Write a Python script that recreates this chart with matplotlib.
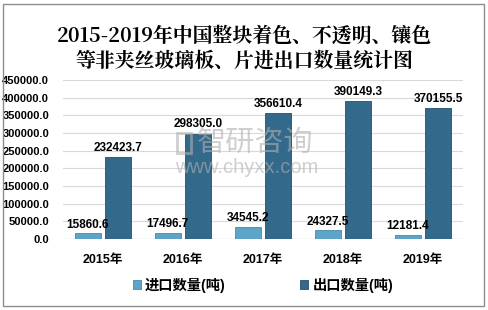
import numpy as np
import matplotlib.pyplot as plt
from matplotlib.patches import Rectangle

plt.rcParams['font.family'] = ['Liberation Sans', 'Noto Sans CJK SC']

years = ['2015年', '2016年', '2017年', '2018年', '2019年']
imports = [15860.6, 17496.7, 34545.2, 24327.5, 12181.4]
exports = [232423.7, 298305.0, 356610.4, 390149.3, 370155.5]
yticks = [0, 50000, 100000, 150000, 200000, 250000, 300000, 350000, 400000, 450000]

fig = plt.figure(figsize=(4.88, 3.10), dpi=100)
ax = fig.add_axes([0.129, 0.229, 0.820, 0.513])

x = np.arange(len(years))
w = 0.32
b1 = ax.bar(x - 0.19, imports, w, color='#5ea3c8', edgecolor='#4a86a8', linewidth=0.6, zorder=3)
b2 = ax.bar(x + 0.19, exports, w, color='#33698a', edgecolor='#24506b', linewidth=0.6, zorder=3)

for xi, v in zip(x, imports):
    ax.text(xi - 0.19, v + 7000, f'{v:.1f}', ha='center', va='bottom',
            fontsize=8.5, fontweight='bold')
for xi, v in zip(x, exports):
    ax.text(xi + 0.19, v + 9000, f'{v:.1f}', ha='center', va='bottom',
            fontsize=8.5, fontweight='bold')

ax.set_xlim(-0.5, len(years) - 0.5)
ax.set_ylim(0, 450000)
ax.set_yticks(yticks)
ax.set_yticklabels([f'{t:.1f}' for t in yticks], fontsize=8, fontweight='bold')
ax.set_xticks(x)
ax.set_xticklabels(years, fontsize=9, fontweight='bold')
ax.tick_params(axis='y', length=0, pad=10)
ax.tick_params(axis='x', length=0, pad=11)
ax.grid(axis='y', color='#d9d9d9', linewidth=0.8, zorder=0)
for s in ax.spines.values():
    s.set_visible(False)
ax.axhline(0, color='#bfbfbf', linewidth=0.8, zorder=2)

# 水印
fig.text(0.404, 0.539, '智研咨询', fontsize=21, color='#b0b0b0', alpha=0.6,
         ha='left', va='center')
fig.text(0.359, 0.461, 'www.chyxx.com', fontsize=14.5, color='#b0b0b0', alpha=0.6,
         ha='left', va='center')
fig.patches.append(Rectangle((177 / 488, 1 - 153 / 310), 14 / 488, 20 / 310,
                             transform=fig.transFigure, fill=False,
                             edgecolor='#b0b0b0', alpha=0.6, linewidth=2))

fig.suptitle('2015-2019年中国整块着色、不透明、镶色\n等非夹丝玻璃板、片进出口数量统计图',
             y=0.918, fontsize=14.3, fontweight='bold', linespacing=1.22,
             family=['Noto Serif CJK SC', 'Noto Sans CJK SC'])

fig.legend([b1, b2], ['进口数量(吨)', '出口数量(吨)'], loc='center',
           bbox_to_anchor=(0.539, 0.08), ncol=2, frameon=False,
           prop={'weight': 'bold', 'size': 10.3}, handlelength=0.55, handleheight=0.55,
           columnspacing=5.2, handletextpad=0.3)

fig.patches.append(Rectangle((3 / 488, 1 - 306 / 310), 481 / 488, 302 / 310,
                             transform=fig.transFigure, fill=False,
                             edgecolor='#8c8c8c', linewidth=1))

fig.savefig('out.png', dpi=100)
